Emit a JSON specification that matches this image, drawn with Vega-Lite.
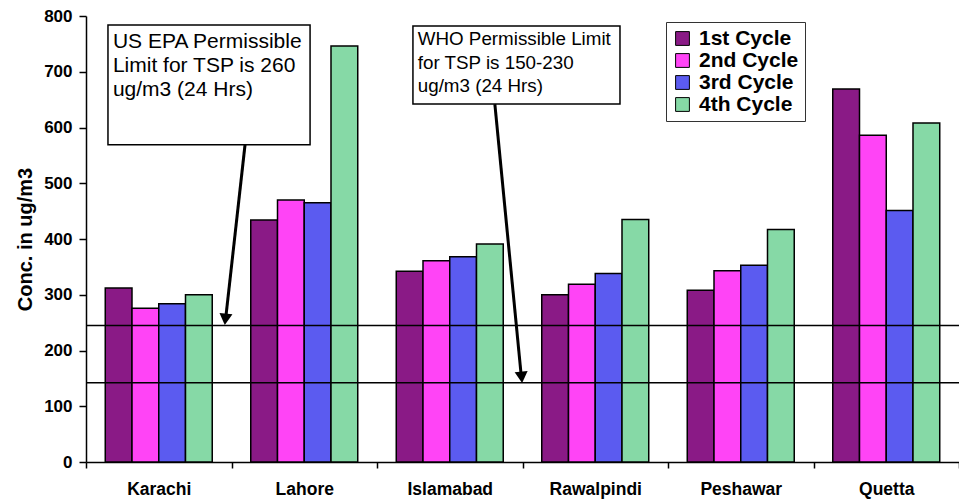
{
  "$schema": "https://vega.github.io/schema/vega-lite/v6.json",
  "width": 873,
  "height": 446,
  "autosize": {"type": "none"},
  "padding": {"left": 86, "top": 16, "right": 0, "bottom": 40},
  "background": "white",
  "config": {
    "view": {"stroke": null},
    "font": "Liberation Sans",
    "axis": {"domainColor": "black", "tickColor": "black", "labelColor": "black", "titleColor": "black", "grid": false}
  },
  "datasets": {
    "bars": [
      {"city": "Karachi", "cycle": "1st Cycle", "conc": 312},
      {"city": "Karachi", "cycle": "2nd Cycle", "conc": 276},
      {"city": "Karachi", "cycle": "3rd Cycle", "conc": 284},
      {"city": "Karachi", "cycle": "4th Cycle", "conc": 300},
      {"city": "Lahore", "cycle": "1st Cycle", "conc": 434},
      {"city": "Lahore", "cycle": "2nd Cycle", "conc": 470},
      {"city": "Lahore", "cycle": "3rd Cycle", "conc": 465},
      {"city": "Lahore", "cycle": "4th Cycle", "conc": 746},
      {"city": "Islamabad", "cycle": "1st Cycle", "conc": 342},
      {"city": "Islamabad", "cycle": "2nd Cycle", "conc": 361},
      {"city": "Islamabad", "cycle": "3rd Cycle", "conc": 368},
      {"city": "Islamabad", "cycle": "4th Cycle", "conc": 391},
      {"city": "Rawalpindi", "cycle": "1st Cycle", "conc": 300},
      {"city": "Rawalpindi", "cycle": "2nd Cycle", "conc": 319},
      {"city": "Rawalpindi", "cycle": "3rd Cycle", "conc": 338},
      {"city": "Rawalpindi", "cycle": "4th Cycle", "conc": 435},
      {"city": "Peshawar", "cycle": "1st Cycle", "conc": 308},
      {"city": "Peshawar", "cycle": "2nd Cycle", "conc": 343},
      {"city": "Peshawar", "cycle": "3rd Cycle", "conc": 353},
      {"city": "Peshawar", "cycle": "4th Cycle", "conc": 417},
      {"city": "Quetta", "cycle": "1st Cycle", "conc": 669},
      {"city": "Quetta", "cycle": "2nd Cycle", "conc": 586},
      {"city": "Quetta", "cycle": "3rd Cycle", "conc": 451},
      {"city": "Quetta", "cycle": "4th Cycle", "conc": 608}
    ],
    "limits": [{"limit": 245}, {"limit": 142}],
    "boxes": [
      {"x": 0.151, "x2": 1.54, "y": 569, "y2": 784},
      {"x": 2.247, "x2": 3.67, "y": 642, "y2": 782}
    ],
    "epaText": [
      {"x": 0.185, "y": 753, "t": "US EPA Permissible"},
      {"x": 0.185, "y": 710, "t": "Limit for TSP is 260"},
      {"x": 0.185, "y": 667, "t": "ug/m3 (24 Hrs)"}
    ],
    "whoText": [
      {"x": 2.28, "y": 759, "t": "WHO Permissible Limit"},
      {"x": 2.28, "y": 716, "t": "for TSP is 150-230"},
      {"x": 2.28, "y": 674, "t": "ug/m3 (24 Hrs)"}
    ],
    "arrows": [
      {"x": 1.093, "y": 569, "x2": 0.962, "y2": 262},
      {"x": 2.81, "y": 642, "x2": 2.99, "y2": 158}
    ],
    "heads": [
      {"x": 0.958, "y": 256, "a": 6},
      {"x": 2.994, "y": 152, "a": -5}
    ]
  },
  "layer": [
    {
      "data": {"name": "bars"},
      "mark": {"type": "bar", "stroke": "black", "strokeWidth": 1.5},
      "encoding": {
        "x": {
          "field": "city", "type": "nominal", "sort": null,
          "scale": {"paddingInner": 0, "paddingOuter": 0},
          "axis": {"title": null, "tickBand": "extent", "labelAngle": 0, "labelFontSize": 17.5, "labelFontWeight": "bold", "labelPadding": 12, "tickSize": 6, "domainWidth": 1.5, "tickWidth": 1.5}
        },
        "xOffset": {
          "field": "cycle", "type": "nominal", "sort": null,
          "scale": {"paddingInner": 0, "paddingOuter": 0.72}
        },
        "y": {
          "field": "conc", "type": "quantitative",
          "scale": {"domain": [0, 800], "nice": false},
          "axis": {"title": "Conc. in ug/m3", "values": [0, 100, 200, 300, 400, 500, 600, 700, 800], "labelFontSize": 17, "labelFontWeight": "bold", "titleFontSize": 20, "titleFontWeight": "bold", "titlePadding": 8, "tickSize": 7, "labelPadding": 7, "domainWidth": 1.5, "tickWidth": 1.5}
        },
        "color": {
          "field": "cycle", "type": "nominal", "sort": null,
          "scale": {"domain": ["1st Cycle", "2nd Cycle", "3rd Cycle", "4th Cycle"], "range": ["#8A1A86", "#FF44F6", "#5B5BF0", "#86D9A6"]},
          "legend": {
            "title": null, "orient": "none", "legendX": 580, "legendY": 6,
            "symbolType": "square", "symbolSize": 190, "symbolStrokeColor": "black", "symbolStrokeWidth": 1,
            "labelFontSize": 21, "labelFontWeight": "bold", "labelColor": "black",
            "strokeColor": "#333", "fillColor": "white", "padding": 6, "rowPadding": 0,
            "labelOffset": 6, "labelLimit": 200
          }
        }
      }
    },
    {
      "data": {"name": "limits"},
      "mark": {"type": "rule", "color": "black", "strokeWidth": 1.5},
      "encoding": {"y": {"field": "limit", "type": "quantitative"}}
    },
    {
      "data": {"name": "boxes"},
      "mark": {"type": "rect", "fill": "white", "stroke": "black", "strokeWidth": 1.5},
      "encoding": {
        "x": {"field": "x", "type": "quantitative", "scale": {"domain": [0, 6], "nice": false, "zero": false}, "axis": null},
        "x2": {"field": "x2"},
        "y": {"field": "y", "type": "quantitative"},
        "y2": {"field": "y2"}
      }
    },
    {
      "data": {"name": "epaText"},
      "mark": {"type": "text", "align": "left", "baseline": "middle", "fontSize": 21, "color": "black"},
      "encoding": {
        "x": {"field": "x", "type": "quantitative", "scale": {"domain": [0, 6], "nice": false, "zero": false}, "axis": null},
        "y": {"field": "y", "type": "quantitative"},
        "text": {"field": "t"}
      }
    },
    {
      "data": {"name": "whoText"},
      "mark": {"type": "text", "align": "left", "baseline": "middle", "fontSize": 18.8, "color": "black"},
      "encoding": {
        "x": {"field": "x", "type": "quantitative", "scale": {"domain": [0, 6], "nice": false, "zero": false}, "axis": null},
        "y": {"field": "y", "type": "quantitative"},
        "text": {"field": "t"}
      }
    },
    {
      "data": {"name": "arrows"},
      "mark": {"type": "rule", "color": "black", "strokeWidth": 3},
      "encoding": {
        "x": {"field": "x", "type": "quantitative", "scale": {"domain": [0, 6], "nice": false, "zero": false}, "axis": null},
        "x2": {"field": "x2"},
        "y": {"field": "y", "type": "quantitative"},
        "y2": {"field": "y2"}
      }
    },
    {
      "data": {"name": "heads"},
      "mark": {"type": "point", "shape": "triangle-down", "filled": true, "color": "black", "size": 170, "opacity": 1},
      "encoding": {
        "x": {"field": "x", "type": "quantitative", "scale": {"domain": [0, 6], "nice": false, "zero": false}, "axis": null},
        "y": {"field": "y", "type": "quantitative"},
        "angle": {"field": "a", "type": "quantitative", "scale": null}
      }
    }
  ],
  "resolve": {"scale": {"x": "independent"}}
}
